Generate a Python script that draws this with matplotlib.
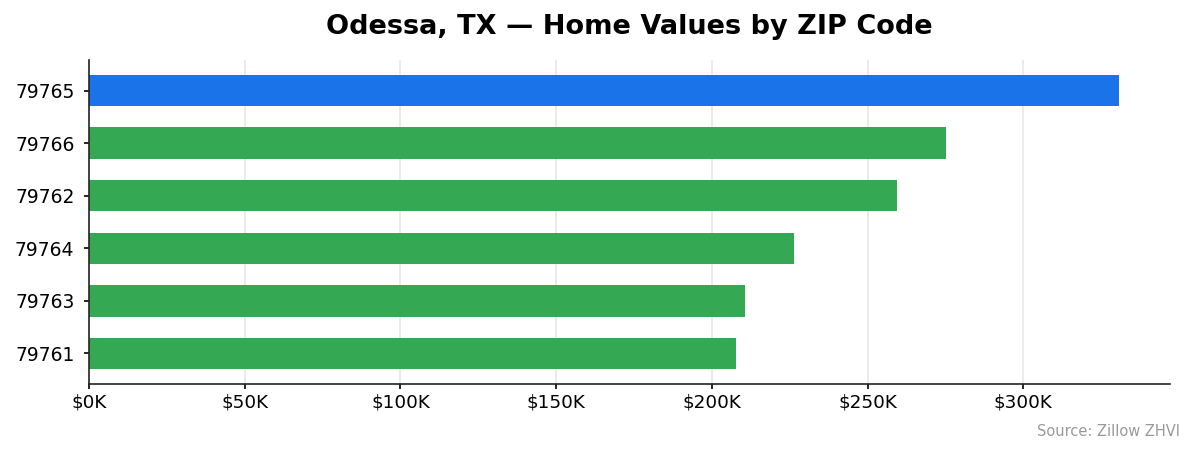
import matplotlib
matplotlib.use("Agg")
import matplotlib.pyplot as plt
from matplotlib.ticker import FuncFormatter

zips = ["79765", "79766", "79762", "79764", "79763", "79761"]
values = [330.6, 275.1, 259.6, 226.5, 210.8, 207.9]  # in $K
highlight = "79765"

fig = plt.figure(figsize=(11.95, 4.55), dpi=100)
ax = fig.add_axes([89/1195, 1 - 384/455, (1170-89)/1195, (384-60)/455])

colors = ["#1a73e8" if z == highlight else "#34a853" for z in zips]
ypos = list(range(len(zips)))[::-1]
ax.barh(ypos, values, height=0.6, color=colors, zorder=2)
ax.set_yticks(ypos)
ax.set_yticklabels(zips)
ax.set_xlim(0, max(values) * 1.05)
ax.set_xticks([0, 50, 100, 150, 200, 250, 300])
ax.xaxis.set_major_formatter(FuncFormatter(lambda v, p: f"${int(v)}K"))
ax.tick_params(axis="x", labelsize=13.2, width=1.2)
ax.tick_params(axis="y", labelsize=13.5, pad=7, width=1.2)
ax.grid(axis="x", color="#bbbbbb", alpha=0.35, linewidth=1.2, zorder=3)
for s in ["top", "right"]:
    ax.spines[s].set_visible(False)
for s in ["left", "bottom"]:
    ax.spines[s].set_color("#222222")
    ax.spines[s].set_linewidth(1.2)
ax.set_title("Odessa, TX — Home Values by ZIP Code", fontsize=19.5, fontweight="bold", pad=19)
fig.text(1180/1195, 1 - 432/455, "Source: Zillow ZHVI", ha="right", va="center", fontsize=10.5, color="#999999")
fig.savefig("out.png", dpi=100)
